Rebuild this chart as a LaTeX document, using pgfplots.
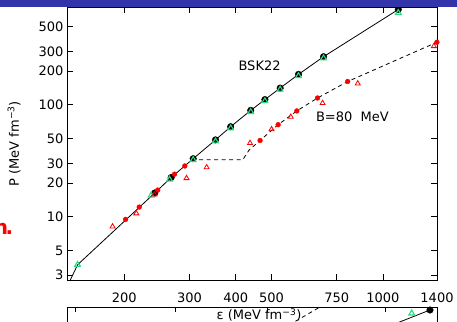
\documentclass[border=0pt]{standalone}
\usepackage{fontspec}
\setmainfont{DejaVu Sans}
\usepackage{pgfplots}
\pgfplotsset{compat=1.18}
\definecolor{slideblue}{RGB}{52,52,170}
\definecolor{mint}{RGB}{40,220,130}
\definecolor{ptred}{RGB}{250,0,0}

\begin{document}
\begin{tikzpicture}[x=1pt,y=1pt]
\useasboundingbox (0,0) rectangle (457,321);
\clip (0,0) rectangle (457,321);
\fill[white] (0,0) rectangle (457,321);

% lower panel (only its upper edge shows)
\begin{axis}[
  at={(67pt,14pt)}, anchor=north west,
  scale only axis, width=370pt, height=60pt,
  xmin=0, xmax=370, ymin=0, ymax=60,
  axis line style={line width=0.8pt},
  xtick={8,108,200,318}, xticklabels={},
  ytick=\empty,
  tick align=inside, major tick length=5pt,
  tick style={black, line width=0.8pt},
  clip mode=individual,
]
\addplot[black, dash pattern=on 4pt off 3.5pt, line width=0.8pt] coordinates {(222,42) (253,60)};
\addplot[black, line width=0.8pt] coordinates {(320,40) (363,57)};
\addplot[only marks, mark=*, mark size=3.3pt, black] coordinates {(363,57)};
\addplot[only marks, mark=triangle, mark size=3.3pt, mint, line width=1.1pt] coordinates {(344.7,53.7)};
\end{axis}

\begin{axis}[
  at={(67pt,41pt)}, anchor=south west,
  scale only axis, width=370pt, height=272.5pt,
  xmode=log, ymode=log,
  xmin=140, xmax=1400, ymin=2.72, ymax=740,
  axis line style={line width=0.8pt},
  xtick={200,300,400,500,750,1000,1400},
  xticklabels={200,300,400,500,750,1000,1400},
  ytick={3,5,10,20,30,50,100,200,300,500},
  yticklabels={3,5,10,20,30,50,100,200,300,500},
  xminorticks=false, yminorticks=false,
  tick align=inside, major tick length=6pt,
  tick style={black, line width=0.8pt},
  ticklabel style={font=\fontsize{13}{15}\selectfont},
  xticklabel style={yshift=-9pt},
  /pgf/number format/assume math mode=true,
  xlabel={ε (MeV fm\textsuperscript{−3})},
  ylabel={P (MeV fm\textsuperscript{−3})},
  every axis x label/.style={at={(axis description cs:0.519,0)}, yshift=-35pt, anchor=center, font=\fontsize{13}{15}\selectfont},
  every axis y label/.style={at={(axis description cs:-0.143,0.50)}, rotate=90, anchor=center, font=\fontsize{13}{15}\selectfont},
  clip mode=individual,
]
% BSK22
\addplot[black, line width=0.8pt] coordinates {
  (142,2.6) (149.5,3.72) (241.7,16.3) (267.7,22.4) (307,33) (352.8,48.6)
  (387.7,63.7) (439.2,89.1) (479.7,111.3) (527.5,141) (591.3,187)
  (691,269) (1100,710) (1160,789)
};
% B = 80 MeV
\addplot[black, dash pattern=on 4pt off 3.5pt, line width=0.8pt] coordinates {
  (304,32.3) (418,32.3) (434.5,39.3) (465.5,48) (520.9,66.4) (585,88.1)
  (665.6,115) (803,161.5) (1399,362) (1430,372)
};
\addplot[only marks, mark=*, mark size=3.3pt, black] coordinates {
  (241.7,16.3) (267.7,22.4) (307,33) (352.8,48.6) (387.7,63.7) (439.2,89.1)
  (479.7,111.3) (527.5,141) (591.3,187) (691,269) (1100,710)
};
\addplot[only marks, mark=triangle, mark size=3.3pt, mint, line width=1.1pt] coordinates {
  (149.5,3.72) (236.3,15.5) (265,21.5) (307,32.2) (352.8,47.2) (387.7,61.8)
  (439.2,86.4) (479.7,108) (527.5,137) (591.3,181) (691,261) (1100,663)
};
\addplot[only marks, mark=triangle, mark size=2.9pt, ptred, line width=0.8pt] coordinates {
  (185.9,8.17) (215.5,10.7) (241.2,15.8) (294.5,22.1) (333.8,27.6) (437.3,45.5)
  (500,60.4) (563.6,78.0) (686.9,103.5) (855,155) (1373,334)
};
\addplot[only marks, mark=*, mark size=2.4pt, ptred] coordinates {
  (201.6,9.47) (219.5,12.2) (246.2,17.3) (273.3,24.0) (291.4,28.4) (465.5,48.0)
  (520.9,66.4) (585,88.1) (665.6,115) (803,161.5) (1399,362)
};
\node[font=\fontsize{13}{15}\selectfont] at (axis cs:464,221) {BSK22};
\node[font=\fontsize{13}{15}\selectfont] at (axis cs:827,78.5) {B=80\ \ MeV};
\end{axis}

\node[anchor=base east, inner sep=0pt, text=red, font=\bfseries\fontsize{20}{24}\selectfont] at (13.5,86) {n\kern-2.5pt.};
\fill[slideblue] (0,313.7) rectangle (457,322);
\end{tikzpicture}
\end{document}
